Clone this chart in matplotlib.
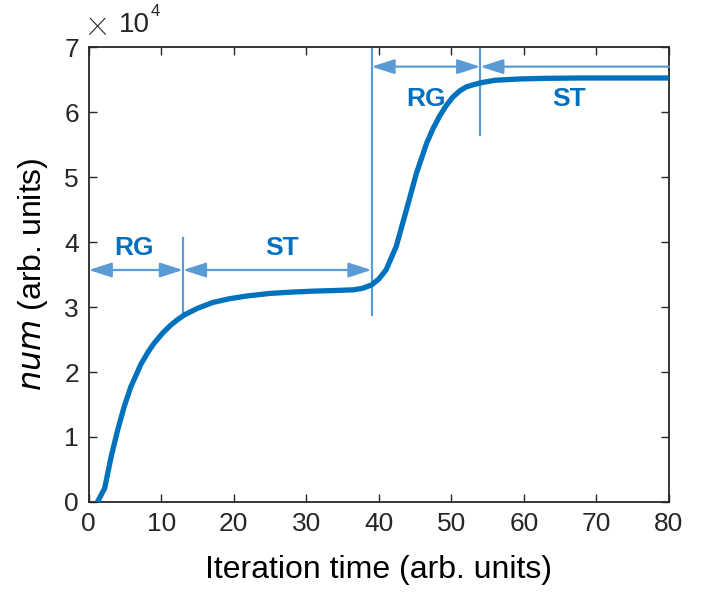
import matplotlib.pyplot as plt

plt.rcParams["font.family"] = ["Liberation Sans", "DejaVu Sans"]

# curve values (x: iteration time, y: num / 1e4)
iter_time = [1.2, 2.2, 3.1, 4.0, 4.9, 5.8, 7.2, 8.2, 9.0, 10.2, 11.3, 12.3, 13.2, 15.0,
             17.1, 19.5, 21.8, 25.0, 28.0, 31.0, 34.0, 36.5, 37.8, 39.0, 40.0, 41.0,
             42.4, 43.8, 45.2, 46.6, 47.5, 48.4, 49.3, 50.2, 51.2, 52.1, 53.0, 54.0,
             56.0, 59.4, 63.0, 68.0, 74.0, 80.0]
num = [0.0, 0.21, 0.70, 1.11, 1.47, 1.77, 2.12, 2.31, 2.44, 2.6, 2.72, 2.81, 2.88, 2.98,
       3.07, 3.13, 3.17, 3.21, 3.23, 3.245, 3.255, 3.265, 3.29, 3.34, 3.43, 3.57,
       3.93, 4.49, 5.06, 5.52, 5.75, 5.94, 6.1, 6.23, 6.33, 6.39, 6.42, 6.45,
       6.49, 6.51, 6.52, 6.525, 6.525, 6.525]

# phase boundaries and labels
bounds_low = [0, 13, 39]
bounds_high = [39, 54, 80]
labels_low = ["RG", "ST"]
labels_high = ["RG", "ST"]

line_color = "#0072BD"
arrow_color = "#5B9BD5"
text_color = "#0070C0"
dark = "#262626"

fig = plt.figure(figsize=(7.04, 5.93), dpi=100)
ax = fig.add_axes([0.126, 0.1535, 0.824, 0.767])

ax.plot(iter_time, num, color=line_color, linewidth=3.8, solid_capstyle="butt",
        solid_joinstyle="round", zorder=3)

# vertical markers
ax.plot([13, 13], [2.88, 4.06], color=arrow_color, linewidth=1.6)
ax.plot([39, 39], [2.88, 7.0], color=arrow_color, linewidth=1.6)
ax.plot([54, 54], [5.65, 7.0], color=arrow_color, linewidth=1.6)

head = "head_length=1.4,head_width=0.45"
arrow_kw = dict(arrowstyle="<|-|>," + head, color=arrow_color,
                linewidth=1.6, shrinkA=0, shrinkB=0)

y_low = 3.57
for i, lab in enumerate(labels_low):
    x0, x1 = bounds_low[i], bounds_low[i + 1]
    ax.annotate("", xy=(x1, y_low), xytext=(x0, y_low), arrowprops=arrow_kw)
ax.text(6.3, 3.91, labels_low[0], color=text_color, fontsize=19, fontweight="bold",
        ha="center", va="center")
ax.text(26.6, 3.91, labels_low[1], color=text_color, fontsize=19, fontweight="bold",
        ha="center", va="center")

y_high = 6.70
ax.annotate("", xy=(bounds_high[1], y_high), xytext=(bounds_high[0], y_high), arrowprops=arrow_kw)
ax.annotate("", xy=(bounds_high[1], y_high), xytext=(bounds_high[2], y_high),
            arrowprops=dict(arrow_kw, arrowstyle="-|>," + head))
ax.text(46.5, 6.2, labels_high[0], color=text_color, fontsize=19, fontweight="bold",
        ha="center", va="center")
ax.text(66.3, 6.2, labels_high[1], color=text_color, fontsize=19, fontweight="bold",
        ha="center", va="center")

ax.set_xlim(0, 80)
ax.set_ylim(0, 7)
ax.set_xticks(range(0, 81, 10))
ax.set_yticks(range(0, 8))
ax.tick_params(direction="in", top=True, right=True, labelsize=19, length=6,
               width=1, colors=dark, pad=7)
for s in ax.spines.values():
    s.set_linewidth(1.3)
    s.set_color(dark)

ax.set_xlabel("Iteration time (arb. units)", fontsize=23, color="#000000", labelpad=14)
ax.set_ylabel(r"$\it{num}$ (arb. units)", fontsize=23, color="#000000", labelpad=10)

# exponent label above the y axis
fig.text(87 / 704, 1 - 23 / 593, "\u00d7", fontsize=30, color=dark, ha="left", va="center",
         family=["Roboto", "Liberation Sans"], fontweight="light")
fig.text(119 / 704, 1 - 25 / 593, "10", fontsize=20, color=dark, ha="left", va="center")
fig.text(151 / 704, 1 - 12 / 593, "4", fontsize=12, color=dark, ha="left", va="center")

fig.savefig("out.png", dpi=100)
